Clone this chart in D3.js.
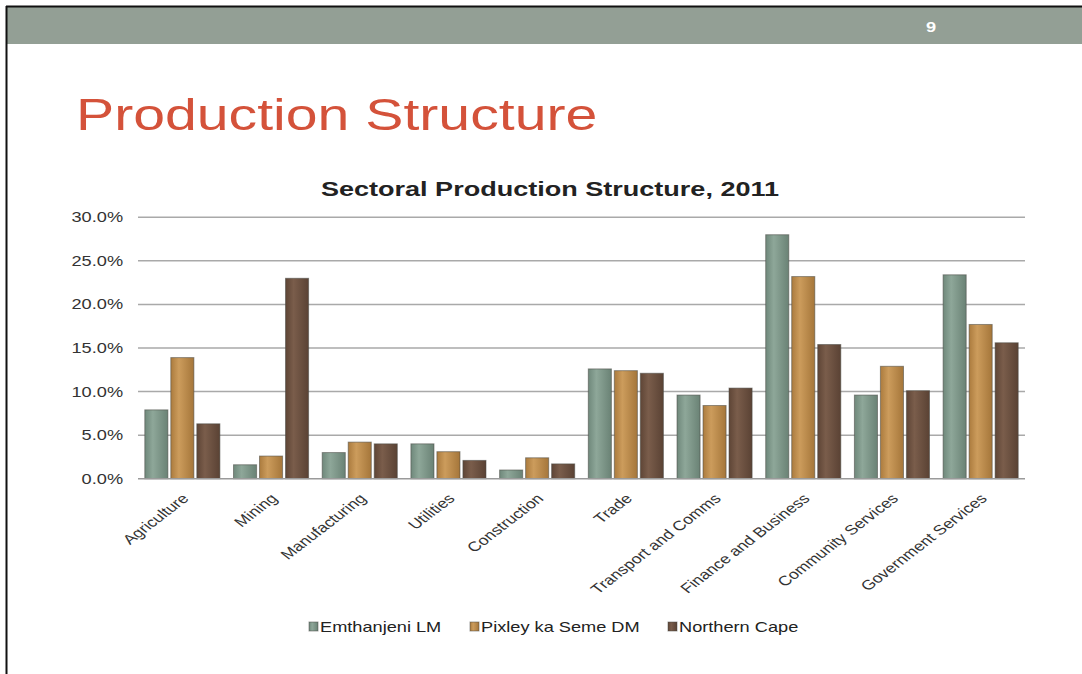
<!DOCTYPE html>
<html>
<head>
<meta charset="utf-8">
<script src="https://cdn.jsdelivr.net/npm/d3@7/dist/d3.min.js"></script>
<style>
  html, body { margin: 0; padding: 0; background: #fff; }
  svg { display: block; font-family: Arial, "Liberation Sans", sans-serif; }
</style>
</head>
<body>
<svg id="slide" width="1082" height="674"></svg>
<script>
// Sector categories and series values (% share of output, 2011)
const categories = ["Agriculture", "Mining", "Manufacturing", "Utilities", "Construction",
  "Trade", "Transport and Comms", "Finance and Business", "Community Services", "Government Services"];
const seriesNames = ["Emthanjeni LM", "Pixley ka Seme DM", "Northern Cape"];
const emthanjeni = [7.9, 1.6, 3.0, 4.0, 1.0, 12.6, 9.6, 28.0, 9.6, 23.4];
const pixley     = [13.9, 2.6, 4.2, 3.1, 2.4, 12.4, 8.4, 23.2, 12.9, 17.7];
const northCape  = [6.3, 23.0, 4.0, 2.1, 1.7, 12.1, 10.4, 15.4, 10.1, 15.6];
const yTicks = [0, 5, 10, 15, 20, 25, 30];
const yTickLabels = ["0.0%", "5.0%", "10.0%", "15.0%", "20.0%", "25.0%", "30.0%"];

(function draw() {
  const seriesValues = [emthanjeni, pixley, northCape];
  const colors = [
    ["#6f887b", "#8ea799", "#6a8275"],
    ["#ab7b3e", "#cc9c5c", "#a5763a"],
    ["#5e4536", "#7a5d4b", "#5a4234"]
  ];

  const SX = 1.3; // horizontal text stretch of the slide
  const svg = d3.select("#slide");

  // gradients for bars
  const defs = svg.append("defs");
  colors.forEach((c, i) => {
    const g = defs.append("linearGradient").attr("id", "grad" + i)
      .attr("x1", "0").attr("x2", "1").attr("y1", "0").attr("y2", "0");
    g.append("stop").attr("offset", "0").attr("stop-color", c[0]);
    g.append("stop").attr("offset", "0.35").attr("stop-color", c[1]);
    g.append("stop").attr("offset", "1").attr("stop-color", c[2]);
  });

  // slide frame and header band
  svg.append("rect").attr("x", 0).attr("y", 0).attr("width", 1082).attr("height", 674).attr("fill", "#fff");
  svg.append("rect").attr("x", 7).attr("y", 7).attr("width", 1075).attr("height", 37).attr("fill", "#939f95");
  svg.append("line").attr("x1", 6).attr("x2", 1082).attr("y1", 6.5).attr("y2", 6.5)
    .attr("stroke", "#111").attr("stroke-width", 2);
  svg.append("line").attr("x1", 6.5).attr("x2", 6.5).attr("y1", 6).attr("y2", 674)
    .attr("stroke", "#111").attr("stroke-width", 2);
  svg.append("text").attr("transform", `translate(931,32) scale(${SX},1)`)
    .attr("text-anchor", "middle").attr("fill", "#fff").attr("font-weight", "bold")
    .attr("font-size", 14).text("9");

  // slide title
  svg.append("text").attr("transform", `translate(76,130) scale(${SX},1)`)
    .attr("fill", "#d4523a").attr("font-size", 44).text("Production Structure");

  // chart title
  svg.append("text").attr("transform", `translate(550,196) scale(${SX},1)`)
    .attr("text-anchor", "middle").attr("fill", "#222").attr("font-weight", "bold")
    .attr("font-size", 20.8).text("Sectoral Production Structure, 2011");

  // scales
  const plotL = 138, plotR = 1025, plotT = 217.3, plotB = 478.7;
  const y = d3.scaleLinear().domain([0, 30]).range([plotB, plotT]);
  const x0 = d3.scaleBand().domain(categories).range([plotL, plotR]).padding(0);
  const x1 = d3.scaleBand().domain(seriesNames)
    .range([6.8, x0.bandwidth() - 6.8]).paddingInner(0.112).paddingOuter(0);

  // gridlines
  svg.append("g").selectAll("line").data(yTicks.filter(d => d > 0)).join("line")
    .attr("x1", plotL).attr("x2", plotR)
    .attr("y1", d => y(d)).attr("y2", d => y(d))
    .attr("stroke", "#a9a9a9").attr("stroke-width", 1.5);

  // y axis labels
  const yAxis = d3.axisLeft(y).tickValues(yTicks).tickSize(0).tickPadding(11.5)
    .tickFormat((d, i) => yTickLabels[i]);
  const yg = svg.append("g").attr("transform", `translate(${plotL},0)`).call(yAxis);
  yg.select(".domain").remove();
  yg.selectAll("text").attr("font-size", 14).attr("fill", "#333")
    .attr("font-family", "Arial, 'Liberation Sans', sans-serif")
    .attr("transform", `scale(${SX},1)`);

  // bars
  const groups = svg.append("g").selectAll("g").data(categories).join("g")
    .attr("transform", d => `translate(${x0(d)},0)`);
  groups.selectAll("rect")
    .data((d, ci) => seriesNames.map((s, si) => ({ s, si, v: seriesValues[si][ci] })))
    .join("rect")
    .attr("x", d => x1(d.s))
    .attr("y", d => y(d.v))
    .attr("width", x1.bandwidth())
    .attr("height", d => y(0) - y(d.v))
    .attr("fill", d => `url(#grad${d.si})`)
    .attr("stroke", "#4a4a46").attr("stroke-opacity", 0.55).attr("stroke-width", 1);

  // x axis baseline
  svg.append("line").attr("x1", plotL).attr("x2", plotR)
    .attr("y1", y(0)).attr("y2", y(0))
    .attr("stroke", "#9a9a9a").attr("stroke-width", 1.5);

  // rotated category labels
  svg.append("g").selectAll("text").data(categories).join("text")
    .attr("transform", d => `translate(${x0(d) + x0.bandwidth() / 2 + 3},496) scale(${SX},1) rotate(-45)`)
    .attr("text-anchor", "end").attr("dy", "0.35em")
    .attr("font-size", 13.6).attr("fill", "#333").text(d => d);

  // legend
  const legendX = [309, 470, 668];
  const lg = svg.append("g").selectAll("g").data(seriesNames).join("g")
    .attr("transform", (d, i) => `translate(${legendX[i]},622)`);
  lg.append("rect").attr("width", 9).attr("height", 9)
    .attr("fill", (d, i) => `url(#grad${i})`)
    .attr("stroke", "#4a4a46").attr("stroke-opacity", 0.5);
  lg.append("text").attr("transform", `translate(11,10) scale(${SX},1)`)
    .attr("font-size", 14).attr("fill", "#222").text(d => d);
})();
</script>
</body>
</html>
